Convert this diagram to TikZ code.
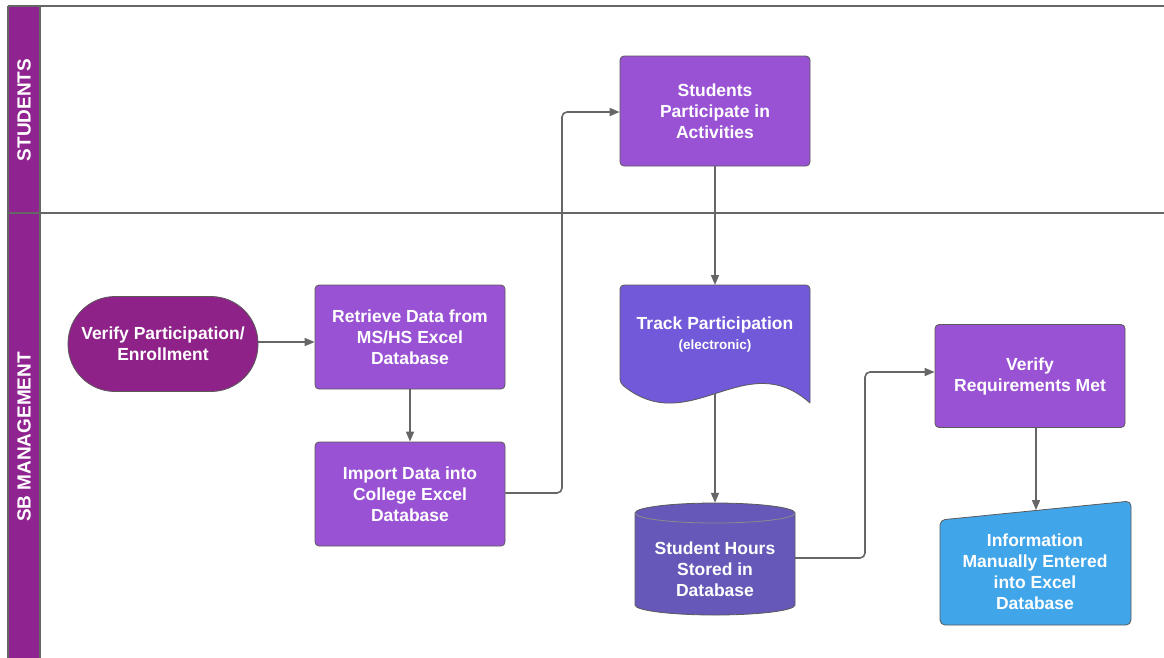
\documentclass[tikz,border=0pt]{standalone}
\usepackage{fontspec}
\setmainfont{Liberation Sans}
\usetikzlibrary{arrows.meta}
\definecolor{lanecol}{HTML}{8F2390}
\definecolor{startcol}{HTML}{8E2288}
\definecolor{boxcol}{HTML}{9A52D4}
\definecolor{doccol}{HTML}{7159D9}
\definecolor{dbcol}{HTML}{6558B8}
\definecolor{manualcol}{HTML}{41A5EA}
\definecolor{linecol}{HTML}{666666}
\definecolor{edgecol}{HTML}{5A5A5A}
\begin{document}
\begin{tikzpicture}[x=1pt,y=-1pt]
\tikzstyle{every node}+=[inner sep=0pt]
\tikzstyle{txt}=[text=white,font=\bfseries\fontsize{17.5}{21}\selectfont,align=center]
\tikzstyle{proc}=[txt,draw=edgecol,line width=0.8pt,fill=boxcol,rounded corners=4pt,minimum width=190pt]
\tikzstyle{flow}=[draw=linecol,line width=1.6pt,-{Triangle[length=10pt,width=8pt]}]
\tikzstyle{lanetxt}=[text=white,font=\bfseries\fontsize{19}{22}\selectfont,rotate=90]
\useasboundingbox (0,0) rectangle (1164,657);
\fill [white] (0,0) rectangle (1164,657);
\fill [lanecol] (8,6) rectangle (40,660);
\draw [linecol,line width=1.6pt] (8,6) -- (1164,6);
\draw [linecol,line width=1.6pt] (8,213) -- (1164,213);
\draw [linecol,line width=1.2pt] (8,6) -- (8,660);
\draw [linecol,line width=1.2pt] (40,6) -- (40,660);
\node [lanetxt] (students) at (24,110) {STUDENTS};
\node [lanetxt] (sbm) at (24,437) {SB MANAGEMENT};
\node [txt,draw=edgecol,line width=0.8pt,fill=startcol,rounded corners=47pt,minimum width=190pt,minimum height=95pt] (verify) at (163,344) {Verify Participation/\\Enrollment};
\node [proc,minimum height=104pt] (retrieve) at (410,337) {Retrieve Data from\\MS/HS Excel\\Database};
\node [proc,minimum height=104pt] (import) at (410,494) {Import Data into\\College Excel\\Database};
\node [proc,minimum height=110pt] (participate) at (715,111) {Students\\Participate in\\Activities};
\draw [draw=edgecol,line width=0.8pt,fill=doccol,rounded corners=4pt] (810,403) -- (810,285) -- (620,285) -- (620,383) [sharp corners] .. controls (690,440) and (745,345) .. (810,403);
\node [txt] (track) at (715,335) {Track Participation\\[-1pt]{\fontsize{13.5}{16}\selectfont (electronic)}};
\coordinate (trackend) at (715,393);
\node [minimum width=160pt,minimum height=112pt] (hours) at (715,559) {};
\draw [draw=edgecol,line width=0.8pt,fill=dbcol] (635,513) -- (635,605) arc (180:0:80 and 10) -- (795,513) arc (0:-180:80 and 10) -- cycle;
\draw [draw=edgecol!70!white,line width=0.8pt] (635,513) arc (180:0:80 and 10);
\node [txt] (hourstext) at (715,569) {Student Hours\\Stored in\\Database};
\node [proc,minimum height=103pt] (requirements) at (1030,376) {Verify\\Requirements Met};
\draw [draw=edgecol,line width=0.8pt,fill=manualcol,rounded corners=5pt] (940,520) -- (1131,501) -- (1131,625) -- (940,625) -- cycle;
\node [txt] (manual) at (1035,572) {Information\\Manually Entered\\into Excel\\Database};
\coordinate (manualtop) at (1036,510);
\draw [flow] (verify.east |- 0,342) -- (retrieve.west |- 0,342);
\draw [flow] (retrieve) -- (import);
\draw [flow,rounded corners=5pt] (import.east |- 0,493) -- (562,493) -- (562,112) -- (participate.west |- 0,112);
\draw [flow] (participate) -- (track.north |- participate.west |- 0,285);
\draw [flow] (trackend) -- (hours.north);
\draw [flow,rounded corners=5pt] (hours.east |- 0,558) -- (865,558) -- (865,372) -- (requirements.west |- 0,372);
\draw [flow] (requirements.south -| manualtop) -- (manualtop);
\end{tikzpicture}
\end{document}
